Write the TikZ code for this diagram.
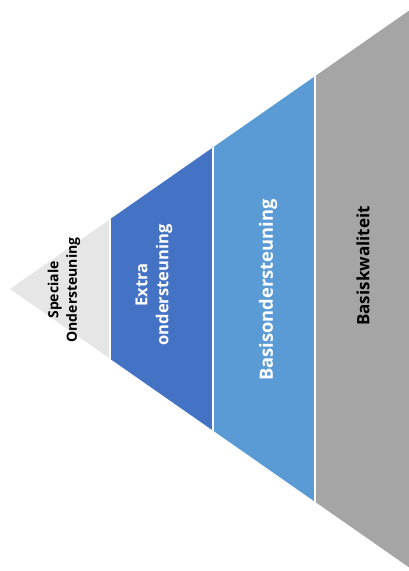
\documentclass[tikz,border=0pt]{standalone}
\usepackage{fontspec}
\setmainfont{Open Sans}
\usetikzlibrary{positioning}
\definecolor{paleband}{HTML}{E7E6E6}
\definecolor{deepblue}{HTML}{4472C4}
\definecolor{midblue}{HTML}{5B9BD5}
\definecolor{stone}{HTML}{A5A5A5}
\tikzset{
  bandtext/.style={font=\bfseries\fontsize{18.3}{21}\selectfont, rotate=90, align=center, inner sep=0pt},
  smalltext/.style={bandtext, font=\bfseries\fontsize{14}{18.5}\selectfont},
}

\begin{document}
\begin{tikzpicture}[x=1pt,y=-1pt]
  \useasboundingbox (0,0) rectangle (409,571);

  % triangle cut into four bands
  \begin{scope}
    \clip (10,289) -- (430,-4) -- (430,582) -- cycle;
    \foreach \xa/\xb/\fillc in {0/110/paleband, 110/213/deepblue, 213/315/midblue, 315/409/stone} {
      \fill[\fillc] (\xa,0) rectangle (\xb,571);
    }
    \foreach \x in {110,213,315} {
      \draw[white, line width=2.5pt] (\x,0) -- (\x,571);
    }
  \end{scope}

  \node[smalltext, text=black] (special) at (64,290) {Speciale\\Ondersteuning};
  \node[bandtext, text=white, font=\bfseries\fontsize{16.5}{21}\selectfont] (extra) at (154,285) {Extra\\ondersteuning};
  \node[bandtext, text=white] (basis) at (268,290) {Basisondersteuning};
  \node[bandtext, text=black, font=\bfseries\fontsize{17}{21}\selectfont] (quality) at (363,266) {Basiskwaliteit};
\end{tikzpicture}
\end{document}
